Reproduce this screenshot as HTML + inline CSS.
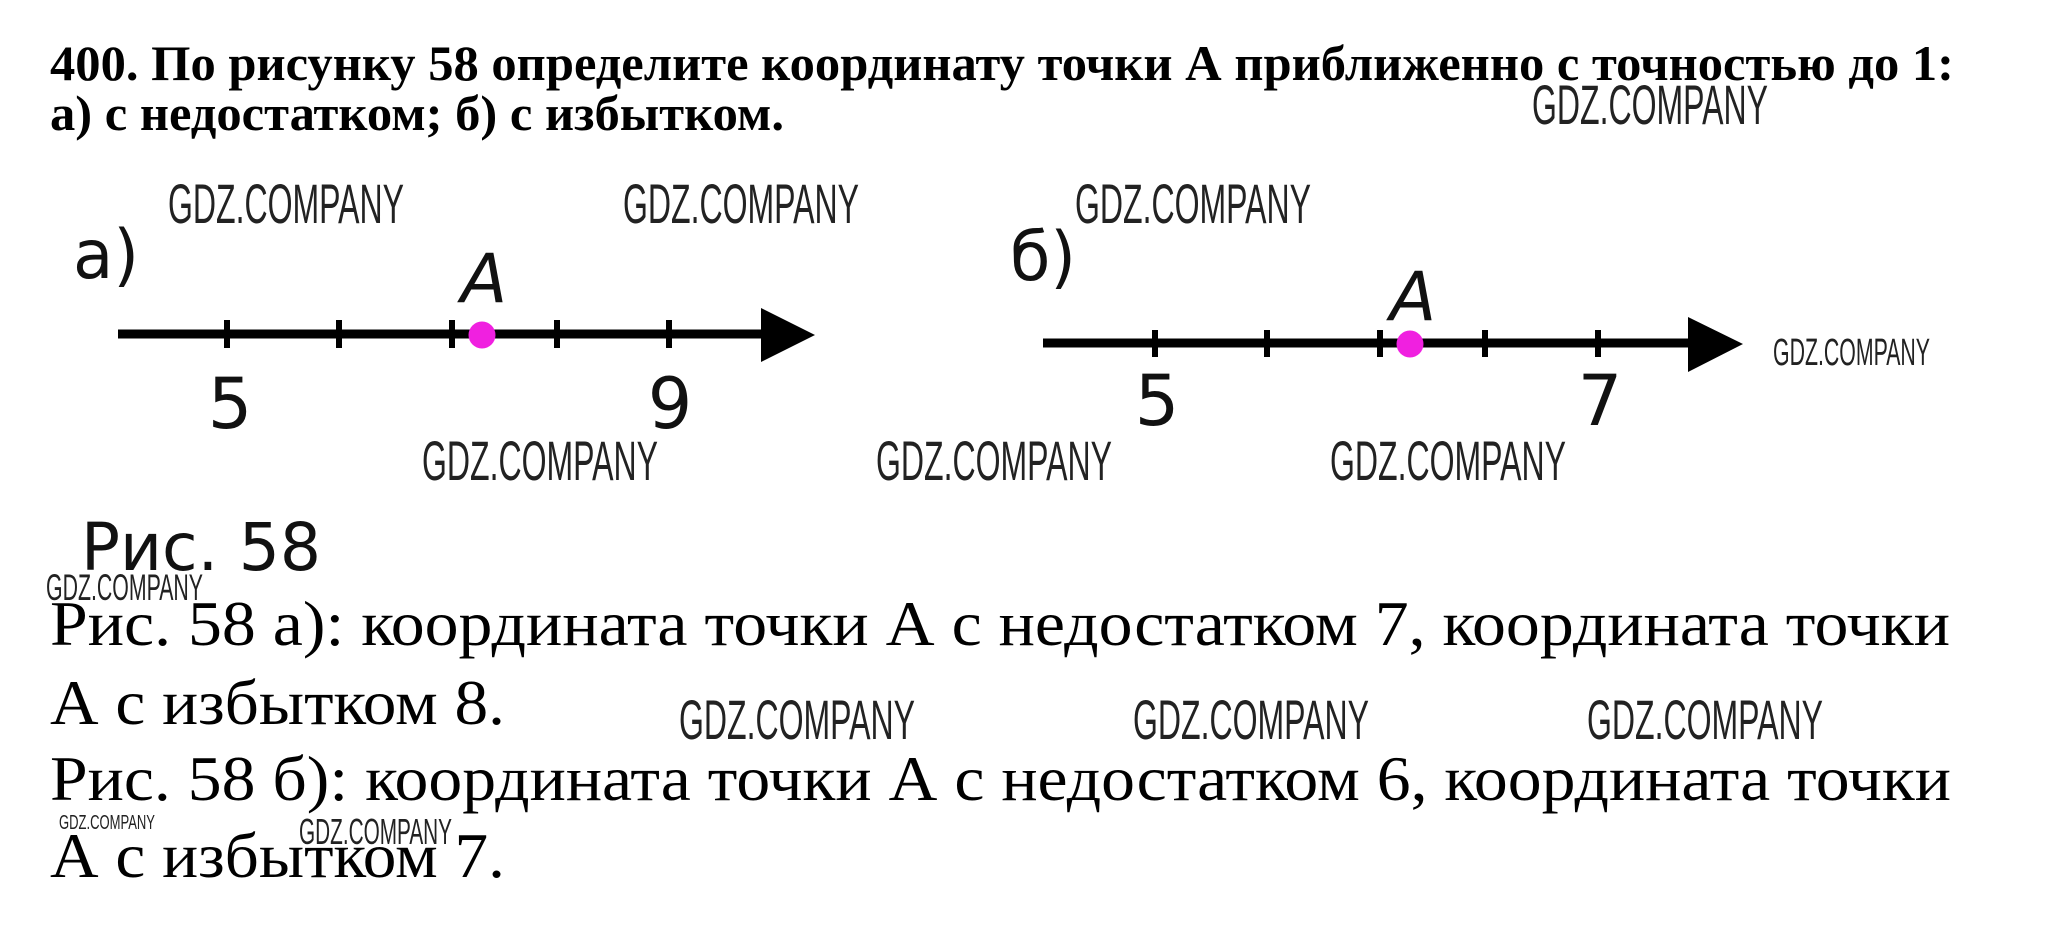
<!DOCTYPE html>
<html><head><meta charset="utf-8"><style>
html,body{margin:0;padding:0;background:#fff;}
svg{display:block;}
.h{font-family:"Liberation Serif","Noto Serif CJK SC",serif;font-weight:bold;fill:#000;}
.t{font-family:"Liberation Serif","Noto Serif CJK SC",serif;fill:#000;}
.f{font-family:"DejaVu Sans","Liberation Sans",sans-serif;fill:#111;}
.w{font-family:"Liberation Sans",sans-serif;fill:#222;}
</style></head><body>
<svg width="2046" height="941" viewBox="0 0 2046 941" xmlns="http://www.w3.org/2000/svg">
<rect width="2046" height="941" fill="#fff"/>
<text class="h" x="50" y="80" font-size="50" textLength="1904" lengthAdjust="spacingAndGlyphs">400. По рисунку 58 определите координату точки А приближенно с точностью до 1:</text>
<text class="h" x="50" y="130" font-size="50" textLength="734" lengthAdjust="spacingAndGlyphs">а) с недостатком; б) с избытком.</text>

<!-- figure a -->
<text class="f" x="73" y="278" font-size="68" textLength="66" lengthAdjust="spacingAndGlyphs">а)</text>
<line x1="118" y1="334" x2="770" y2="334" stroke="#000" stroke-width="9"/>
<polygon points="761,308 815,335 761,362" fill="#000"/>
<g stroke="#000" stroke-width="6">
<line x1="227" y1="320" x2="227" y2="348"/><line x1="339" y1="320" x2="339" y2="348"/><line x1="452" y1="320" x2="452" y2="348"/><line x1="557" y1="320" x2="557" y2="348"/><line x1="669" y1="320" x2="669" y2="348"/>
</g>
<circle cx="482" cy="335" r="13.5" fill="#f020e0"/>
<text class="f" x="484" y="302" font-size="68" font-style="italic" text-anchor="middle">A</text>
<text class="f" x="230" y="428" font-size="70" text-anchor="middle">5</text>
<text class="f" x="670" y="428" font-size="70" text-anchor="middle">9</text>

<!-- figure b -->
<text class="f" x="1010" y="280" font-size="68" textLength="66" lengthAdjust="spacingAndGlyphs">б)</text>
<line x1="1043" y1="343" x2="1700" y2="343" stroke="#000" stroke-width="9"/>
<polygon points="1688,317 1743,344 1688,372" fill="#000"/>
<g stroke="#000" stroke-width="6">
<line x1="1155" y1="330" x2="1155" y2="357"/><line x1="1267" y1="330" x2="1267" y2="357"/><line x1="1380" y1="330" x2="1380" y2="357"/><line x1="1485" y1="330" x2="1485" y2="357"/><line x1="1598" y1="330" x2="1598" y2="357"/>
</g>
<circle cx="1410" cy="344" r="13.5" fill="#f020e0"/>
<text class="f" x="1413" y="320" font-size="68" font-style="italic" text-anchor="middle">A</text>
<text class="f" x="1157" y="425" font-size="70" text-anchor="middle">5</text>
<text class="f" x="1600" y="425" font-size="70" text-anchor="middle">7</text>

<text class="f" x="81" y="570" font-size="66" textLength="240" lengthAdjust="spacingAndGlyphs">Рис. 58</text>

<!-- answers -->
<text class="t" x="50" y="645" font-size="64" textLength="1900" lengthAdjust="spacingAndGlyphs">Рис. 58 а): координата точки А с недостатком 7, координата точки</text>
<text class="t" x="50" y="724" font-size="64" textLength="455" lengthAdjust="spacingAndGlyphs">А с избытком 8.</text>
<text class="t" x="50" y="800" font-size="64" textLength="1901" lengthAdjust="spacingAndGlyphs">Рис. 58 б): координата точки А с недостатком 6, координата точки</text>
<text class="t" x="50" y="877" font-size="64" textLength="455" lengthAdjust="spacingAndGlyphs">А с избытком 7.</text>

<!-- watermarks -->
<g class="w">
<text x="1532" y="124" font-size="56" textLength="236" lengthAdjust="spacingAndGlyphs">GDZ.COMPANY</text>
<text x="168" y="223" font-size="56" textLength="236" lengthAdjust="spacingAndGlyphs">GDZ.COMPANY</text>
<text x="623" y="223" font-size="56" textLength="236" lengthAdjust="spacingAndGlyphs">GDZ.COMPANY</text>
<text x="1075" y="223" font-size="56" textLength="236" lengthAdjust="spacingAndGlyphs">GDZ.COMPANY</text>
<text x="1773" y="365" font-size="38" textLength="157" lengthAdjust="spacingAndGlyphs">GDZ.COMPANY</text>
<text x="422" y="480" font-size="56" textLength="236" lengthAdjust="spacingAndGlyphs">GDZ.COMPANY</text>
<text x="876" y="480" font-size="56" textLength="236" lengthAdjust="spacingAndGlyphs">GDZ.COMPANY</text>
<text x="1330" y="480" font-size="56" textLength="236" lengthAdjust="spacingAndGlyphs">GDZ.COMPANY</text>
<text x="46" y="600" font-size="37" textLength="157" lengthAdjust="spacingAndGlyphs">GDZ.COMPANY</text>
<text x="679" y="739" font-size="56" textLength="236" lengthAdjust="spacingAndGlyphs">GDZ.COMPANY</text>
<text x="1133" y="739" font-size="56" textLength="236" lengthAdjust="spacingAndGlyphs">GDZ.COMPANY</text>
<text x="1587" y="739" font-size="56" textLength="236" lengthAdjust="spacingAndGlyphs">GDZ.COMPANY</text>
<text x="59" y="829" font-size="20" textLength="96" lengthAdjust="spacingAndGlyphs">GDZ.COMPANY</text>
<text x="299" y="844" font-size="36" textLength="153" lengthAdjust="spacingAndGlyphs">GDZ.COMPANY</text>
</g>
</svg>
</body></html>
